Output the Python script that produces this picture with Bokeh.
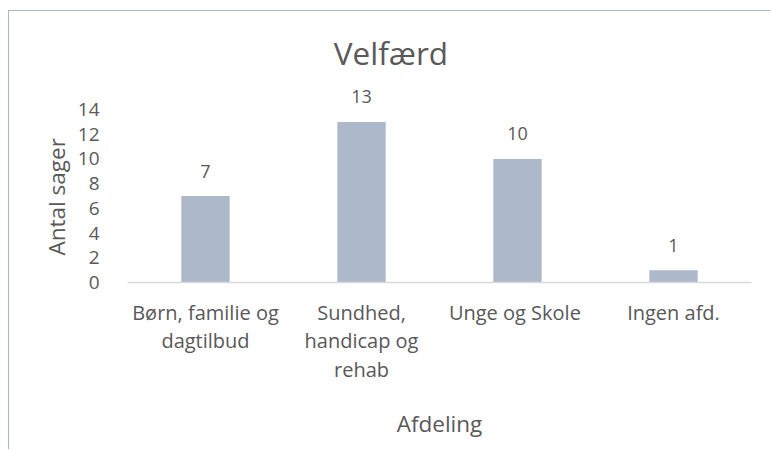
from bokeh.plotting import figure
from bokeh.models import ColumnDataSource, Range1d, FixedTicker, LabelSet, Label, Title
from bokeh.core.properties import value
from bokeh.embed import file_html
from bokeh.resources import INLINE

categories = ["Børn, familie og\ndagtilbud", "Sundhed,\nhandicap og\nrehab", "Unge og  Skole", "Ingen afd."]
values = [7, 13, 10, 1]
y_ticks = [0, 2, 4, 6, 8, 10, 12, 14]
title_text = "Velfærd"
x_title = "Afdeling"
y_title = "Antal sager"

FONT = "Open Sans"
TXT = "#595959"

xs = [i + 0.5 for i in range(len(categories))]
src = ColumnDataSource(dict(x=xs, top=values, lab=[str(v) for v in values]))

p = figure(frame_width=624, frame_height=249, output_backend="svg", toolbar_location=None,
           x_range=Range1d(0, len(categories)), y_range=Range1d(0, 20.16),
           min_border_left=118, min_border_right=19, min_border_top=22, min_border_bottom=167)
p.styles = {"border-left": "1.5px solid #A9B7CE", "border-top": "1.5px solid #A9B7CE",
            "margin-left": "8px", "margin-top": "10px"}
p.outline_line_color = None
p.grid.visible = False
p.background_fill_color = "white"
p.border_fill_color = "white"

p.vbar(x="x", top="top", width=0.31, bottom=0, source=src, fill_color="#ADB9CA", line_color=None)

labels = LabelSet(x="x", y="top", text="lab", source=src, y_offset=25, text_align="center",
                  text_baseline="middle", text_font=value(FONT), text_font_size=value("18px"),
                  text_color=value(TXT))
p.add_layout(labels)

t = Label(x=1.689, y=18.62, text=title_text, text_align="center", text_baseline="middle",
          text_font=FONT, text_font_size="31.5px", text_color=TXT)
p.add_layout(t)

yt = Title(text=y_title, align="left", offset=27, standoff=6, text_font=FONT,
           text_font_size="22.5px", text_font_style="normal", text_color=TXT)
p.add_layout(yt, "left")

xa = p.xaxis[0]
xa.ticker = FixedTicker(ticks=xs)
xa.major_label_overrides = {x: c for x, c in zip(xs, categories)}
xa.major_tick_line_color = None
xa.minor_tick_line_color = None
xa.axis_line_color = "#D9D9D9"
xa.axis_line_width = 1.5
xa.major_label_text_font = FONT
xa.major_label_text_font_size = "20px"
xa.major_label_text_color = TXT
xa.major_label_text_line_height = 1.07
xa.major_label_standoff = 10
xa.axis_label = x_title
xa.axis_label_text_font = FONT
xa.axis_label_text_font_size = "22.5px"
xa.axis_label_text_font_style = "normal"
xa.axis_label_text_color = TXT
xa.axis_label_standoff = 22

ya = p.yaxis[0]
ya.ticker = FixedTicker(ticks=y_ticks)
ya.axis_line_color = None
ya.major_tick_line_color = None
ya.minor_tick_line_color = None
ya.major_label_text_font = FONT
ya.major_label_text_font_size = "19px"
ya.major_label_text_color = TXT
ya.major_label_standoff = 22

open("out.html", "w").write(file_html(p, INLINE))
